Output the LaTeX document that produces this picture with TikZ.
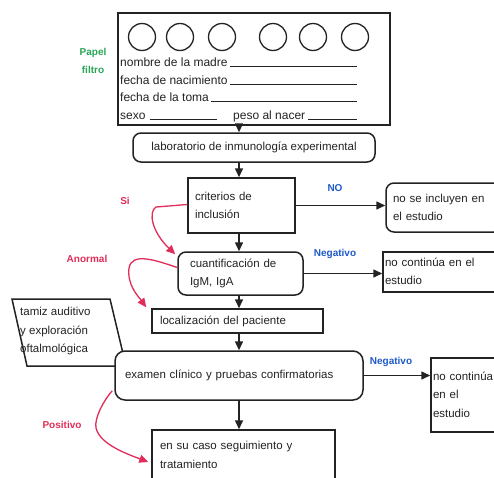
\documentclass[tikz,border=0pt]{standalone}
\usepackage{fontspec}
\setmainfont{Liberation Sans}
\usetikzlibrary{arrows.meta,shapes.geometric}
\definecolor{lgreen}{RGB}{40,165,85}
\definecolor{lred}{RGB}{225,45,90}
\definecolor{lblue}{RGB}{30,90,200}
\definecolor{ink}{RGB}{35,35,35}
\tikzset{
  box/.style={draw=ink, line width=1.5pt, fill=white, inner ysep=0pt, text=ink, align=left,
    font=\fontsize{11.5}{18.5}\selectfont},
  rbox/.style={box, rounded corners=8pt},
  arr/.style={draw=ink, line width=1.5pt, -{Triangle[length=9pt,width=8pt]}},
  redarr/.style={draw=lred, line width=1.3pt, -{Triangle[length=9pt,width=8pt]}},
  lbl/.style={font=\bfseries\fontsize{10}{12}\selectfont, inner sep=0pt},
  cardtxt/.style={text=ink, inner sep=0pt, font=\fontsize{12}{14}\selectfont},
  blank/.style={draw=ink, line width=1pt},
  hole/.style={draw=ink, line width=1.3pt, circle, minimum size=27pt, inner sep=0pt},
}
\begin{document}
\begin{tikzpicture}[x=1pt,y=-1pt]
\useasboundingbox[fill=white] (0,0) rectangle (494,477);

% card
\node[draw=ink, line width=1.5pt, minimum width=272pt, minimum height=112pt, inner sep=0pt] (card) at (254,69) {};
\foreach \i/\x in {1/142,2/180,3/222,4/273,5/313,6/355}{
  \node[hole] (c\i) at (\x,37) {};
}
\coordinate (e1) at (357,66);
\node[cardtxt, anchor=base west] (t1) at (120,66) {nombre de la madre};
\node[cardtxt, anchor=base west] (t2) at (120,84) {fecha de nacimiento};
\node[cardtxt, anchor=base west] (t3) at (120,101) {fecha de la toma};
\node[cardtxt, anchor=base west] (t4) at (120,119) {sexo};
\node[cardtxt, anchor=base west] (t5) at (233,119) {peso al nacer};
\coordinate (e4) at (217,119);
\draw[blank] ([xshift=2pt]t1.base east) -- (t1.base east -| e1);
\draw[blank] ([xshift=2pt]t2.base east) -- (t2.base east -| e1);
\draw[blank] ([xshift=2pt]t3.base east) -- (t3.base east -| e1);
\draw[blank] ([xshift=4pt]t4.base east) -- (t4.base east -| e4);
\draw[blank] ([xshift=3pt]t5.base east) -- (t5.base east -| e1);

\node[lbl, text=lgreen] (papel) at (93,53) {Papel};
\node[lbl, text=lgreen] (filtro) at (93,70) {filtro};

% main boxes
\node[rbox, minimum width=242pt, minimum height=29pt, align=center] (lab) at (254,147.5) {laboratorio de inmunología experimental};
\node[box, minimum height=55pt, text width=93pt, inner xsep=7pt] (crit) at (241.5,205.5) {criterios de\\inclusión};
\node[rbox, minimum height=43pt, text width=101pt, inner xsep=12pt] (cuant) at (240.5,273.5) {cuantificación de\\IgM, IgA};
\node[box, minimum height=24pt, text width=155pt, inner xsep=8pt] (loc) at (237.5,321) {\raisebox{-2pt}{localización del paciente}};

% tamiz parallelogram
\coordinate (ta) at (12,299);
\coordinate (tb) at (110,299);
\coordinate (tc) at (126,366);
\coordinate (td) at (27,366);
\draw[ink, line width=1.5pt, fill=white] (ta) -- (tb) -- (tc) -- (td) -- cycle;
\node[anchor=west, align=left, text=ink, inner sep=0pt, font=\fontsize{11.5}{18.5}\selectfont] (tamiz) at (20,331.5) {tamiz auditivo\\y exploración\\oftalmológica};

\node[rbox, rounded corners=10pt, minimum height=49pt, text width=228pt, inner xsep=10pt] (exam) at (239,375.5) {\raisebox{-6pt}{examen clínico y pruebas confirmatorias}};
\node[box, minimum height=50pt, text width=167pt, inner xsep=8pt] (seg) at (243.5,455) {en su caso seguimiento y\\tratamiento};

% right boxes
\node[rbox, minimum height=49pt, text width=102pt, inner xsep=7pt] (ns) at (444,207.5) {no se incluyen en\\el estudio};
\node[box, minimum height=40pt, text width=113pt, inner xsep=2pt] (nc1) at (441.5,272) {\raisebox{-4pt}{\begin{tabular}{@{}l@{}}no continúa en el\\[-1pt]estudio\end{tabular}}};
\node[box, minimum height=74pt, text width=65pt, inner xsep=2pt] (nc2) at (465.5,395) {\raisebox{-3pt}{\begin{tabular}{@{}l@{}}no continúa\\en el\\estudio\end{tabular}}};

% vertical arrows
\coordinate (spine) at (239,0);
\draw[arr] (card.south -| spine) -- (lab.north -| spine);
\draw[arr] (lab.south -| spine) -- (crit.north -| spine);
\draw[arr] (crit.south -| spine) -- (cuant.north -| spine);
\draw[arr] (cuant.south -| spine) -- (loc.north -| spine);
\draw[arr] (loc.south -| spine) -- (exam.north -| spine);
\draw[arr] (exam.south -| spine) -- (seg.north -| spine);

% horizontal arrows
\draw[arr] (crit.east) -- (crit.east -| ns.west);
\draw[arr] (cuant.east) -- (cuant.east -| nc1.west);
\draw[arr] (exam.east) -- (exam.east -| nc2.west);

\node[lbl, text=lblue] (no) at (335,188) {NO};
\node[lbl, text=lblue] (neg1) at (335,254) {Negativo};
\node[lbl, text=lblue] (neg2) at (391,362) {Negativo};

% red curves
\node[lbl, text=lred] (si) at (125,201) {Si};
\node[lbl, text=lred] (anormal) at (87,259) {Anormal};
\node[lbl, text=lred] (positivo) at (62,425) {Positivo};
\coordinate (s1) at (156,207);
\draw[redarr] ([shift={(0,-1)}]crit.west) -- (s1) .. controls (148,212) and (152,232) .. ([shift={(-2,3)}]cuant.north west);
\coordinate (a1) at (129,268);
\draw[redarr] ([shift={(0,-6)}]cuant.west) .. controls (155,260) and (132,252) .. (a1) .. controls (127,285) and (138,296) .. ([shift={(-5,-1)}]loc.north west);
\coordinate (p1) at (96,428);
\draw[redarr] ([shift={(-2,-10)}]exam.south west) .. controls (104,400) and (94,418) .. (p1) .. controls (100,445) and (130,455) .. ([shift={(-3,7)}]seg.west);
\end{tikzpicture}
\end{document}
